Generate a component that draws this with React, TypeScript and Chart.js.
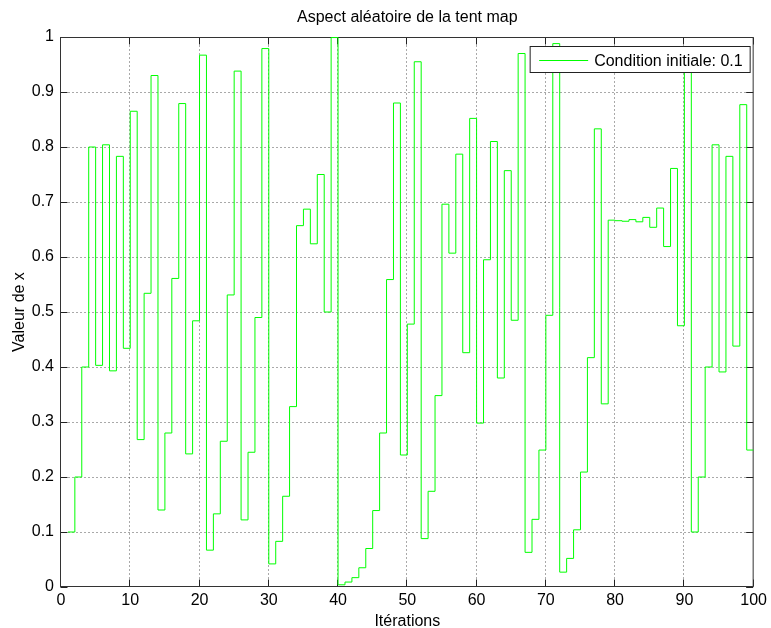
import { useEffect, useRef } from 'react';
import { Chart, registerables } from 'chart.js';

Chart.register(...registerables);

// Iteration index n (step n is held from n to n + 1)
const iterations = [
  1, 2, 3, 4, 5, 6, 7, 8, 9, 10,
  11, 12, 13, 14, 15, 16, 17, 18, 19, 20,
  21, 22, 23, 24, 25, 26, 27, 28, 29, 30,
  31, 32, 33, 34, 35, 36, 37, 38, 39, 40,
  41, 42, 43, 44, 45, 46, 47, 48, 49, 50,
  51, 52, 53, 54, 55, 56, 57, 58, 59, 60,
  61, 62, 63, 64, 65, 66, 67, 68, 69, 70,
  71, 72, 73, 74, 75, 76, 77, 78, 79, 80,
  81, 82, 83, 84, 85, 86, 87, 88, 89, 90,
  91, 92, 93, 94, 95, 96, 97, 98, 99, 100,
];

// Orbit of the tent map starting at x0 = 0.1
const orbit = [
  0.100, 0.200, 0.400, 0.800, 0.403, 0.804, 0.393, 0.783, 0.434, 0.865,
  0.268, 0.534, 0.930, 0.140, 0.280, 0.561, 0.879, 0.242, 0.484, 0.967,
  0.067, 0.133, 0.265, 0.531, 0.938, 0.122, 0.245, 0.490, 0.979, 0.042,
  0.083, 0.165, 0.328, 0.657, 0.687, 0.624, 0.750, 0.500, 0.999, 0.004,
  0.009, 0.017, 0.035, 0.070, 0.139, 0.280, 0.559, 0.880, 0.240, 0.478,
  0.955, 0.088, 0.174, 0.348, 0.696, 0.607, 0.787, 0.426, 0.852, 0.298,
  0.595, 0.810, 0.380, 0.757, 0.485, 0.970, 0.063, 0.123, 0.249, 0.494,
  0.988, 0.027, 0.052, 0.104, 0.209, 0.417, 0.833, 0.333, 0.667, 0.666,
  0.665, 0.668, 0.664, 0.672, 0.654, 0.689, 0.619, 0.761, 0.475, 0.950,
  0.100, 0.200, 0.400, 0.804, 0.391, 0.783, 0.438, 0.877, 0.249, 0.249,
];

const xTickLabels = ['0', '10', '20', '30', '40', '50', '60', '70', '80', '90', '100'];
const yTickLabels = ['0', '0.1', '0.2', '0.3', '0.4', '0.5', '0.6', '0.7', '0.8', '0.9', '1'];

const seriesLabel = 'Condition initiale: 0.1';
const titleText = 'Aspect aléatoire de la tent map';
const xAxisTitle = 'Itérations';
const yAxisTitle = 'Valeur de x';

const FONT = '"Liberation Sans", Arial, Helvetica, sans-serif';
const FONT_SIZE = 16;
const LINE_GREEN = 'rgb(0, 255, 0)';

// Dotted grid, framed box, inward tick marks, title over the axes and legend box
const axesFrame = {
  id: 'axesFrame',
  beforeDatasetsDraw(chart: any) {
    const { ctx, chartArea: a, scales } = chart;
    const xs = scales.x;
    const ys = scales.y;
    const L = a.left - 0.5;
    const R = a.right - 0.5;
    const T = a.top + 0.5;
    const B = a.bottom - 0.5;
    const tickLen = 7;

    const seg = (x1: number, y1: number, x2: number, y2: number) => {
      ctx.beginPath();
      ctx.moveTo(x1, y1);
      ctx.lineTo(x2, y2);
      ctx.stroke();
    };

    ctx.save();
    ctx.lineWidth = 1;

    // grid
    ctx.strokeStyle = 'rgba(40, 40, 40, 0.8)';
    ctx.setLineDash([1, 3]);
    xs.ticks.forEach((t: any) => {
      if (t.value <= xs.min || t.value >= xs.max) return;
      const px = Math.round(xs.getPixelForValue(t.value)) - 0.5;
      seg(px, T, px, B);
    });
    ys.ticks.forEach((t: any) => {
      if (t.value <= ys.min || t.value >= ys.max) return;
      const py = Math.round(ys.getPixelForValue(t.value)) + 0.5;
      seg(L, py, R, py);
    });
    ctx.setLineDash([]);

    // ticks
    ctx.strokeStyle = '#222';
    xs.ticks.forEach((t: any) => {
      const px = Math.round(xs.getPixelForValue(t.value)) - 0.5;
      seg(px, B, px, B - tickLen);
      seg(px, T, px, T + tickLen);
    });
    ys.ticks.forEach((t: any) => {
      const py = Math.round(ys.getPixelForValue(t.value)) + 0.5;
      seg(L, py, L + tickLen, py);
      seg(R, py, R - tickLen, py);
    });

    // box
    ctx.strokeStyle = '#333';
    ctx.strokeRect(L, T, R - L, B - T);

    // title centred over the axes
    ctx.fillStyle = '#000';
    ctx.font = `${FONT_SIZE}px ${FONT}`;
    ctx.textAlign = 'center';
    ctx.textBaseline = 'middle';
    ctx.fillText(titleText, (a.left + a.right) / 2, 18);
    ctx.restore();
  },
  afterDatasetsDraw(chart: any) {
    const { ctx, chartArea: a } = chart;
    const ds = chart.data.datasets[0];
    const boxW = 220;
    const boxH = 26;
    const bx = a.right - boxW - 3.5;
    const by = a.top + 9.5;

    ctx.save();
    ctx.fillStyle = '#fff';
    ctx.fillRect(bx, by, boxW, boxH);
    ctx.strokeStyle = '#222';
    ctx.lineWidth = 1;
    ctx.strokeRect(bx, by, boxW, boxH);

    const cy = Math.round(by + boxH / 2) + 0.5;
    ctx.strokeStyle = ds.borderColor;
    ctx.beginPath();
    ctx.moveTo(bx + 9, cy);
    ctx.lineTo(bx + 58, cy);
    ctx.stroke();

    ctx.fillStyle = '#000';
    ctx.font = `${FONT_SIZE}px ${FONT}`;
    ctx.textAlign = 'left';
    ctx.textBaseline = 'middle';
    ctx.fillText(ds.label, bx + 64, cy + 1);
    ctx.restore();
  },
};

export default function App() {
  const canvasRef = useRef<HTMLCanvasElement | null>(null);

  useEffect(() => {
    const canvas = canvasRef.current;
    if (!canvas) return;

    const points = iterations.map((n, i) => ({ x: n, y: orbit[i] }));

    const chart = new Chart(canvas, {
      type: 'line',
      data: {
        datasets: [
          {
            label: seriesLabel,
            data: points,
            borderColor: LINE_GREEN,
            backgroundColor: LINE_GREEN,
            borderWidth: 1,
            pointRadius: 0,
            stepped: 'before',
            fill: false,
          },
        ],
      },
      options: {
        responsive: false,
        animation: false,
        devicePixelRatio: 1,
        layout: { padding: { top: 37, right: 15, bottom: 0, left: 0 } },
        plugins: {
          legend: { display: false },
          tooltip: { enabled: false },
          title: { display: false },
        },
        scales: {
          x: {
            type: 'linear',
            min: 0,
            max: 100,
            grid: { display: false, drawTicks: false },
            border: { display: false },
            ticks: {
              stepSize: 10,
              padding: 4,
              color: '#000',
              font: { family: FONT, size: FONT_SIZE },
              maxRotation: 0,
              callback: (_v: any, i: number) => xTickLabels[i],
            },
            title: {
              display: true,
              text: xAxisTitle,
              color: '#000',
              font: { family: FONT, size: FONT_SIZE },
              padding: { top: 0, bottom: -3 },
            },
            afterFit: (s: any) => {
              s.height = 41;
            },
          },
          y: {
            type: 'linear',
            min: 0,
            max: 1,
            grid: { display: false, drawTicks: false },
            border: { display: false },
            ticks: {
              stepSize: 0.1,
              padding: 7,
              color: '#000',
              font: { family: FONT, size: FONT_SIZE },
              callback: (_v: any, i: number) => yTickLabels[i],
            },
            title: {
              display: true,
              text: yAxisTitle,
              color: '#000',
              font: { family: FONT, size: FONT_SIZE },
              padding: { top: 10, bottom: 0 },
            },
            afterFit: (s: any) => {
              s.width = 61;
            },
          },
        },
      },
      plugins: [axesFrame],
    });

    return () => chart.destroy();
  }, []);

  return (
    <div style={{ position: 'absolute', left: 0, top: 0, width: 771, height: 628, background: '#fff' }}>
      <canvas ref={canvasRef} width={771} height={628} style={{ display: 'block' }} />
    </div>
  );
}
